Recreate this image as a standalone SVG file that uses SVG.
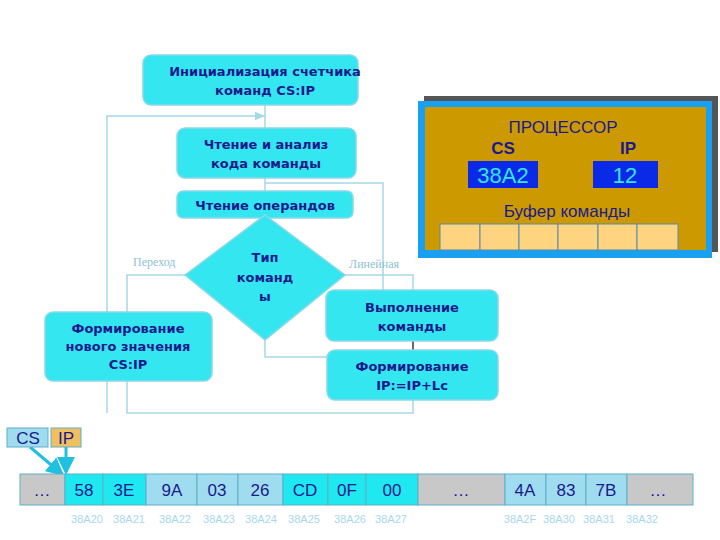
<svg xmlns="http://www.w3.org/2000/svg" width="720" height="540" viewBox="0 0 720 540">
<style>
.box{fill:#33e6f0;stroke:#8cd8e8;stroke-width:1.5}
.bt{font-family:"DejaVu Sans",sans-serif;font-weight:bold;font-size:13px;fill:#1a1a8c;text-anchor:middle}
.ln{fill:none;stroke:#a8d8e6;stroke-width:1.5}
.lbl{font-family:"Liberation Serif",serif;font-size:12px;fill:#8fbfcf}
.mc{stroke:#5ab0c8;stroke-width:1}
.mt{font-family:"Liberation Sans",sans-serif;font-size:17px;fill:#1a1a8c;text-anchor:middle}
.ad{font-family:"Liberation Sans",sans-serif;font-size:11px;fill:#a8d8ec;text-anchor:middle}
.pt{font-family:"Liberation Sans",sans-serif;fill:#1a1a8c;text-anchor:middle}
</style>
<defs><marker id="ar" markerWidth="8" markerHeight="8" refX="7" refY="4" orient="auto"><path d="M0,1 L7,4 L0,7 z" fill="#a8d8e6"/></marker>
<marker id="ar2" markerWidth="6" markerHeight="6" refX="5" refY="3" orient="auto"><path d="M0,0 L6,3 L0,6 z" fill="#20c0e0"/></marker></defs>
<g id="connectors">
<path class="ln" d="M107,413 V116 H265" marker-end="url(#ar)"/>
<path class="ln" d="M265,105 V128"/>
<path class="ln" d="M265,178 V191"/>
<path class="ln" d="M265,183 H383 V290"/>
<path class="ln" d="M185,275 H127 V312"/>
<path class="ln" d="M345,275 H413 V290"/>
<path class="ln" d="M265,335 V357 H327"/>
<path fill="none" stroke="#333" stroke-width="1.5" d="M413,341 V350"/>
<path class="ln" d="M127,381 V413 H413 V400"/>
<path fill="none" stroke="#20c0e0" stroke-width="3" d="M30,447 L62,474" marker-end="url(#ar2)"/>
<path fill="none" stroke="#20c0e0" stroke-width="3" d="M66,447 V472" marker-end="url(#ar2)"/>
</g>
<g id="init"><rect class="box" x="143" y="55" width="215" height="50" rx="8"/><text class="bt" x="265" y="76">Инициализация счетчика</text><text class="bt" x="265" y="95">команд CS:IP</text></g>
<g id="read"><rect class="box" x="177" y="128" width="179" height="50" rx="8"/><text class="bt" x="266" y="149">Чтение и анализ</text><text class="bt" x="266" y="168">кода команды</text></g>
<g id="ops"><rect class="box" x="177" y="191" width="176" height="27" rx="6"/><text class="bt" x="265" y="210">Чтение операндов</text></g>
<g id="type"><path class="box" d="M265,215 L345,275 L265,340 L185,275 z"/><text class="bt" x="265" y="262">Тип</text><text class="bt" x="265" y="282">команд</text><text class="bt" x="265" y="301">ы</text></g>
<text class="lbl" x="133" y="266">Переход</text>
<text class="lbl" x="349" y="268">Линейная</text>
<g id="newcs"><rect class="box" x="45" y="312" width="167" height="69" rx="8"/><text class="bt" x="128" y="333">Формирование</text><text class="bt" x="128" y="351">нового значения</text><text class="bt" x="128" y="369">CS:IP</text></g>
<g id="exec"><rect class="box" x="326" y="290" width="172" height="51" rx="8"/><text class="bt" x="412" y="312">Выполнение</text><text class="bt" x="412" y="331">команды</text></g>
<g id="newip"><rect class="box" x="327" y="350" width="171" height="50" rx="8"/><text class="bt" x="412" y="371">Формирование</text><text class="bt" x="412" y="390">IP:=IP+Lc</text></g>
<g id="cpu">
<rect x="424" y="96" width="294" height="156" fill="#555"/>
<rect x="418" y="101" width="294" height="157" fill="#1aa0f0"/>
<rect x="425" y="107" width="281" height="143" fill="#cc9a00"/>
<text class="pt" x="563" y="133" font-size="17">ПРОЦЕССОР</text>
<text class="pt" x="503" y="154" font-size="17" font-weight="bold">CS</text>
<text class="pt" x="628" y="154" font-size="17" font-weight="bold">IP</text>
<rect x="468" y="161" width="70" height="27" fill="#0a2ae8"/><text class="pt" x="503" y="183" font-size="22" fill="#33e6f0" style="fill:#33e6f0">38A2</text>
<rect x="593" y="161" width="65" height="27" fill="#0a2ae8"/><text class="pt" x="625" y="183" font-size="22" style="fill:#33e6f0">12</text>
<text class="pt" x="567" y="217" font-size="17">Буфер команды</text>
<g fill="#ffd480" stroke="#5a8aa8"><rect x="440" y="224" width="40" height="26"/><rect x="480" y="224" width="39" height="26"/><rect x="519" y="224" width="39" height="26"/><rect x="558" y="224" width="40" height="26"/><rect x="598" y="224" width="39" height="26"/><rect x="637" y="224" width="41" height="26"/></g>
</g>
<g id="regs"><rect x="7" y="428" width="41" height="19" fill="#a0dcf0" stroke="#5ab0c8"/><text class="mt" x="28" y="444">CS</text>
<rect x="51" y="428" width="30" height="19" fill="#f0c060" stroke="#5ab0c8"/><text class="mt" x="66" y="444">IP</text></g>
<g id="memory">
<rect class="mc" x="20" y="474" width="45" height="31" fill="#c8c8c8"/>
<rect class="mc" x="65" y="474" width="38" height="31" fill="#1fe8f0"/>
<rect class="mc" x="103" y="474" width="43" height="31" fill="#1fe8f0"/>
<rect class="mc" x="146" y="474" width="51" height="31" fill="#a0dcf0"/>
<rect class="mc" x="197" y="474" width="41" height="31" fill="#a0dcf0"/>
<rect class="mc" x="238" y="474" width="45" height="31" fill="#a0dcf0"/>
<rect class="mc" x="283" y="474" width="45" height="31" fill="#1fe8f0"/>
<rect class="mc" x="328" y="474" width="38" height="31" fill="#1fe8f0"/>
<rect class="mc" x="366" y="474" width="52" height="31" fill="#1fe8f0"/>
<rect class="mc" x="418" y="474" width="87" height="31" fill="#c8c8c8"/>
<rect class="mc" x="505" y="474" width="41" height="31" fill="#a0dcf0"/>
<rect class="mc" x="546" y="474" width="40" height="31" fill="#a0dcf0"/>
<rect class="mc" x="586" y="474" width="41" height="31" fill="#a0dcf0"/>
<rect class="mc" x="627" y="474" width="66" height="31" fill="#c8c8c8"/>
<text class="mt" x="42" y="496">…</text><text class="mt" x="84" y="496">58</text><text class="mt" x="124" y="496">3E</text><text class="mt" x="172" y="496">9A</text><text class="mt" x="217" y="496">03</text><text class="mt" x="260" y="496">26</text><text class="mt" x="305" y="496">CD</text><text class="mt" x="347" y="496">0F</text><text class="mt" x="392" y="496">00</text><text class="mt" x="461" y="496">…</text><text class="mt" x="525" y="496">4A</text><text class="mt" x="566" y="496">83</text><text class="mt" x="606" y="496">7B</text><text class="mt" x="658" y="496">…</text>
<text class="ad" x="87" y="523">38A20</text><text class="ad" x="129" y="523">38A21</text><text class="ad" x="175" y="523">38A22</text><text class="ad" x="219" y="523">38A23</text><text class="ad" x="261" y="523">38A24</text><text class="ad" x="304" y="523">38A25</text><text class="ad" x="350" y="523">38A26</text><text class="ad" x="391" y="523">38A27</text><text class="ad" x="520" y="523">38A2F</text><text class="ad" x="559" y="523">38A30</text><text class="ad" x="599" y="523">38A31</text><text class="ad" x="642" y="523">38A32</text>
</g>
</svg>
